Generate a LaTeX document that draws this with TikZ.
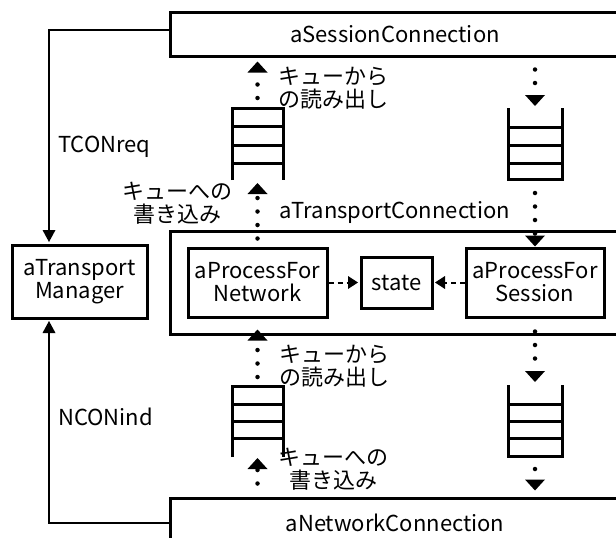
\documentclass[tikz,border=0pt]{standalone}
\usepackage{fontspec}
\setmainfont{Noto Sans CJK JP}
\usetikzlibrary{arrows.meta}

\tikzset{
	box/.style={draw, line width=3pt, inner sep=0pt, align=center},
	queue/.style={line width=3pt},
	dotarrow/.style={line width=4.5pt, line cap=round, dash pattern=on 0pt off 13.5pt,
		-{Triangle[width=20pt,length=11pt,line width=0pt]}},
	dasharrow/.style={line width=2pt, dash pattern=on 5pt off 4pt, shorten >=1.5pt,
		-{Triangle[width=13pt,length=10pt,line width=0pt]}},
	link/.style={line width=1.6pt, shorten >=1.5pt,
		-{Triangle[width=13pt,length=12pt,line width=0pt]}},
	note/.style={inner sep=0pt, align=left},
}

\begin{document}
\begin{tikzpicture}[x=1pt, y=-1pt, font=\fontsize{22}{23}\selectfont]
			\useasboundingbox (0,0) rectangle (616,538);

			%	Connections, open to the right
			\node[box, minimum width=450pt, minimum height=44pt] (sess) at (395,34) {aSessionConnection};
			\node[box, minimum width=450pt, minimum height=103pt] (trans) at (395,282.5) {};
			\node[inner sep=0pt] (translbl) at (395,212) {aTransportConnection};
			\node[box, minimum width=450pt, minimum height=50pt] (net) at (395,523) {aNetworkConnection};

			%	Processes
			\node[box, minimum width=135pt, minimum height=73pt] (mgr) at (79.5,281.5) {aTransport\\Manager};
			\node[box, minimum width=139pt, minimum height=69pt] (pnet) at (257.5,282.5) {aProcessFor\\Network};
			\node[box, minimum width=71pt, minimum height=51pt] (state) at (396.5,282.5) {state};
			\node[box, minimum width=138pt, minimum height=69pt] (psess) at (535,282.5) {aProcessFor\\Session};

			%	Queues
			\draw[queue] (232,180) -- (232,108) -- (283,108) -- (283,180);% top left
			\foreach \y in {126,145,163} \draw[queue] (232,\y) -- (283,\y);
			\draw[queue] (508,108) -- (508,179) -- (562,179) -- (562,108);% top right
			\foreach \y in {127,145,163} \draw[queue] (508,\y) -- (562,\y);
			\draw[queue] (232,457) -- (232,386) -- (283,386) -- (283,457);% bottom left
			\foreach \y in {404,421,438} \draw[queue] (232,\y) -- (283,\y);
			\draw[queue] (508,385) -- (508,456) -- (562,456) -- (562,385);% bottom right
			\foreach \y in {404,421,438} \draw[queue] (508,\y) -- (562,\y);

			\coordinate (q1top) at (257.5,108);
			\coordinate (q1bot) at (257.5,180);
			\coordinate (q2top) at (535,108);
			\coordinate (q2bot) at (535,179);
			\coordinate (q3top) at (257.5,386);
			\coordinate (q3bot) at (257.5,457);
			\coordinate (q4top) at (535,385);
			\coordinate (q4bot) at (535,456);

			%	Reading and writing
			\draw[dotarrow, shorten <=10pt, shorten >=4pt] (q1top) -- (q1top |- sess.south);
			\draw[dotarrow, shorten <=8pt, shorten >=3pt] (pnet.north) -- (q1bot);
			\draw[dotarrow, shorten <=12pt, shorten >=2pt] (sess.south -| q2top) -- (q2top);
			\draw[dotarrow, shorten <=14pt] (q2bot) -- (psess.north);
			\draw[dotarrow, shorten <=9pt, shorten >=11pt] (q3top) -- (pnet.south);
			\draw[dotarrow, shorten <=13pt, shorten >=3pt] (psess.south) -- (q4top);
			\draw[dotarrow, shorten <=13pt, shorten >=1pt] (net.north -| q3bot) -- (q3bot);
			\draw[dotarrow, shorten <=13pt, shorten >=6pt] (q4bot) -- (q4bot |- net.north);

			%	Access to state
			\draw[dasharrow] (pnet.east) -- (state.west);
			\draw[dasharrow] (psess.west) -- (state.east);

			%	Manager links
			\draw[link] ([yshift=4pt]sess.west) -| ([xshift=-30.5pt]mgr.north);
			\draw[link] (net.west) -| ([xshift=-30.5pt]mgr.south);

			%	Labels
			\node[note, anchor=west] (tcon) at (58,147) {TCONreq};
			\node[note, anchor=west] (ncon) at (58,417) {NCONind};
			\node[note, anchor=west] (read1) at (278,88.5) {キューから\\の読み出し};
			\node[note, align=center] (write1) at (177,203) {キューへの\\書き込み};
			\node[note, anchor=west] (read2) at (279,366.5) {キューから\\の読み出し};
			\node[note, align=center] (write2) at (333,469.5) {キューへの\\書き込み};
\end{tikzpicture}
\end{document}
